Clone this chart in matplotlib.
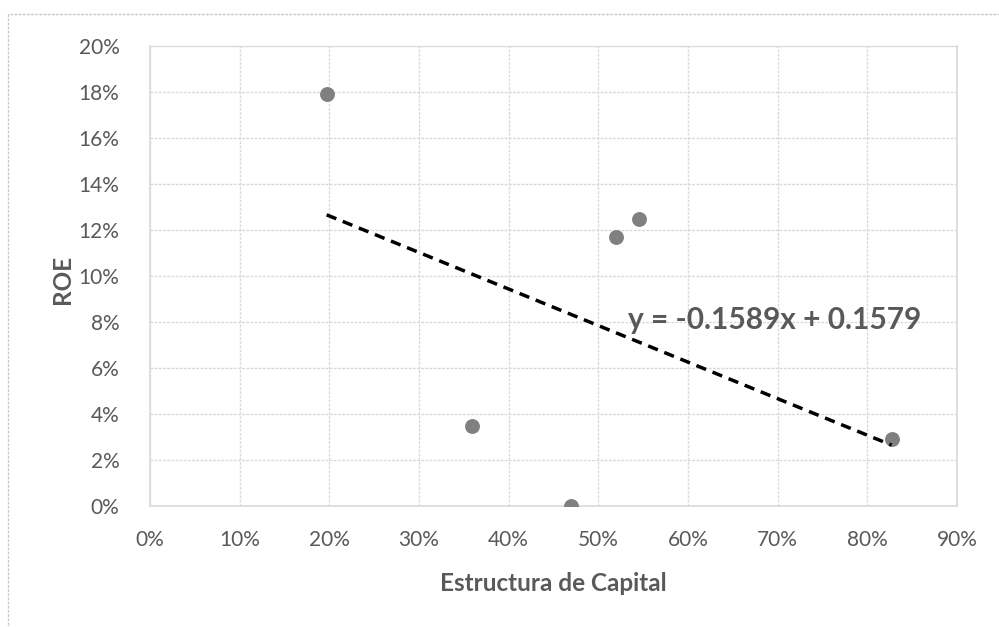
import matplotlib
matplotlib.use("Agg")
import matplotlib.pyplot as plt
from matplotlib.ticker import PercentFormatter, MultipleLocator
from matplotlib.patches import Rectangle

# Data
estructura = [0.197, 0.359, 0.470, 0.5195, 0.545, 0.827]
roe = [0.179, 0.035, 0.000, 0.117, 0.125, 0.029]
slope = -0.1589
intercept = 0.1579
eq_label = "y = -0.1589x + 0.1579"

plt.rcParams['font.family'] = ['Lato', 'DejaVu Sans']
txt = '#595959'
grid_c = '#d9d9d9'

fig = plt.figure(figsize=(9.99, 6.27), dpi=100)
W, H = 999, 627
ax = fig.add_axes([150 / W, 1 - 506 / H, (957 - 150) / W, (506 - 46) / H])

# chart border (dashed)
fig.patches.append(Rectangle((8 / W, -0.05), 1.2, 1 - 14 / H + 0.05, transform=fig.transFigure,
                             fill=False, edgecolor='#c8c8c8', linestyle=(0, (2, 1)), linewidth=1))

ax.scatter(estructura, roe, s=115, color='#808080', zorder=3, linewidths=0)
x0, x1 = min(estructura), max(estructura)
ax.plot([x0, x1], [slope * x0 + intercept, slope * x1 + intercept], color='black',
        linestyle=(0, (3, 2)), linewidth=2.5, zorder=4)

ax.set_xlim(0, 0.9)
ax.set_ylim(0, 0.2)
ax.xaxis.set_major_locator(MultipleLocator(0.1))
ax.yaxis.set_major_locator(MultipleLocator(0.02))
ax.xaxis.set_major_formatter(PercentFormatter(1.0, decimals=0))
ax.yaxis.set_major_formatter(PercentFormatter(1.0, decimals=0))
ax.grid(True, color=grid_c, linestyle=(0, (2, 1)), linewidth=1)
ax.set_axisbelow(True)
for s in ['left', 'bottom', 'right']:
    ax.spines[s].set_color(grid_c)
    ax.spines[s].set_linewidth(1.2)
ax.spines['top'].set_color(grid_c)
ax.spines['top'].set_linestyle((0, (2, 1)))
ax.tick_params(length=0, colors=txt, labelsize=15)
ax.tick_params(axis='x', pad=17)
ax.tick_params(axis='y', pad=22)

ax.set_xlabel('Estructura de Capital', fontsize=17.5, fontweight='bold', color=txt, labelpad=16)
ax.set_ylabel('ROE', fontsize=17.5, fontweight='bold', color=txt)
ax.yaxis.set_label_coords((74 - 150) / 807, 1 - (279 - 46) / 460)

ax.text(0.533, 0.081, eq_label, fontsize=21.5, fontweight='bold', color=txt,
        ha='left', va='center', zorder=5)

fig.savefig('out.png', dpi=100)
